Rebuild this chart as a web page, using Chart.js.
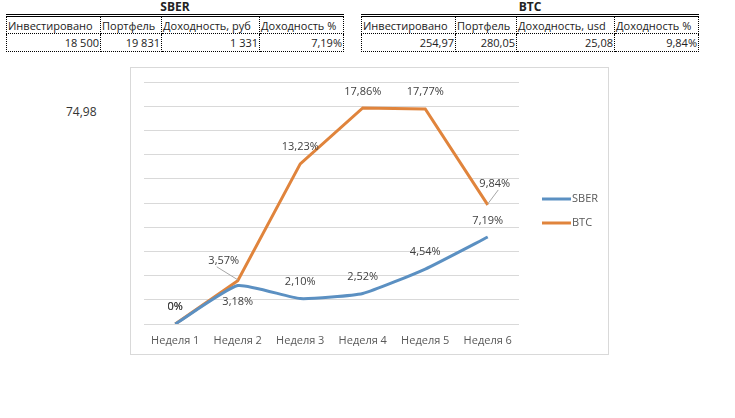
<!DOCTYPE html>
<html>
<head>
<meta charset="utf-8">
<script src="https://cdn.jsdelivr.net/npm/chart.js@4.4.1/dist/chart.umd.min.js"></script>
<style>
  body { margin: 0; background: #fff; font-family: "Open Sans", sans-serif; color: #222; }
  .block { position: absolute; top: 0; }
  .title { text-align: center; font-weight: bold; font-size: 12px; height: 14px; line-height: 14px; }
  table { border-collapse: collapse; font-size: 11px; }
  td { border: 1px dotted #000; height: 16px; padding: 0 1px; white-space: nowrap; overflow: hidden; }
  tr.head td { border-top: 3px double #000; text-align: left; }
  tr.vals td { text-align: right; height: 17px; }
  #cell { position: absolute; left: 66px; top: 103px; font-size: 12px; color: #333; }
  #frame { position: absolute; left: 130px; top: 67px; width: 479px; height: 288px; border: 1px solid #d9d9d9; box-sizing: border-box; }
</style>
</head>
<body>
<div class="block" style="left:6px">
  <div class="title">SBER</div>
  <table id="t-sber"></table>
</div>
<div class="block" style="left:361px">
  <div class="title">BTC</div>
  <table id="t-btc"></table>
</div>
<div id="cell">74,98</div>
<div id="frame"><canvas id="chart" width="477" height="286"></canvas></div>

<script>
"use strict"

// таблицы
const sber_head = ['Инвестировано', 'Портфель', 'Доходность, руб', 'Доходность %']
const sber_vals = ['18 500', '19 831', '1 331', '7,19%']
const btc_head = ['Инвестировано', 'Портфель', 'Доходность, usd', 'Доходность %']
const btc_vals = ['254,97', '280,05', '25,08', '9,84%']
const col_widths = [94, 61, 98, 84]

// график
const weeks = ['Неделя 1', 'Неделя 2', 'Неделя 3', 'Неделя 4', 'Неделя 5', 'Неделя 6']
const sber_values = [0, 3.18, 2.10, 2.52, 4.54, 7.19]
const btc_values = [0, 3.57, 13.23, 17.86, 17.77, 9.84]

const fill_table = (id, head, vals) => {
    const table = document.getElementById(id)
    const row = (cls, cells) => {
        const tr = document.createElement('tr')
        tr.className = cls
        cells.forEach((c, i) => {
            const td = document.createElement('td')
            td.style.width = (col_widths[i] - 3) + 'px'
            td.textContent = c
            tr.appendChild(td)
        })
        table.appendChild(tr)
    }
    row('head', head)
    row('vals', vals)
}

fill_table('t-sber', sber_head, sber_vals)
fill_table('t-btc', btc_head, btc_vals)

const fmt = (v) => v === 0 ? '0%' : v.toFixed(2).replace('.', ',') + '%'

// смещения подписей [dx, dy] и выноски
const label_offsets = {
    SBER: [[0, -17], [0, 16], [0, -17], [0, -17], [0, -17], [0, -16]],
    BTC: [[0, -17], [-14, -20], [0, -17], [0, -16], [0, -17], [7, -21]]
}
const leaders = { BTC: [1, 5] }

const labelsPlugin = {
    id: 'pointLabels',
    afterDatasetsDraw(chart) {
        const ctx = chart.ctx
        ctx.save()
        ctx.font = '11px "Open Sans"'
        ctx.fillStyle = '#404040'
        ctx.textAlign = 'center'
        ctx.textBaseline = 'middle'
        chart.data.datasets.forEach((ds, di) => {
            const meta = chart.getDatasetMeta(di)
            meta.data.forEach((pt, i) => {
                const [dx, dy] = label_offsets[ds.label][i]
                const lx = pt.x + dx
                const ly = pt.y + dy
                if ((leaders[ds.label] || []).includes(i)) {
                    ctx.strokeStyle = '#a6a6a6'
                    ctx.lineWidth = 1
                    ctx.beginPath()
                    ctx.moveTo(lx + dx * 0.5, ly + 6)
                    ctx.lineTo(pt.x, pt.y - 1)
                    ctx.stroke()
                }
                ctx.fillText(fmt(ds.data[i]), lx, ly)
            })
        })
        ctx.restore()
    }
}

const legendPlugin = {
    id: 'sideLegend',
    afterDraw(chart) {
        const ctx = chart.ctx
        ctx.save()
        ctx.font = '11px "Open Sans"'
        ctx.fillStyle = '#595959'
        ctx.textBaseline = 'middle'
        chart.data.datasets.forEach((ds, i) => {
            const y = 131 + i * 24
            ctx.strokeStyle = ds.borderColor
            ctx.lineWidth = 3
            ctx.beginPath()
            ctx.moveTo(411, y)
            ctx.lineTo(440, y)
            ctx.stroke()
            ctx.fillText(ds.label, 441, y)
        })
        ctx.restore()
    }
}

new Chart(document.getElementById('chart').getContext('2d'), {
    type: 'line',
    data: {
        labels: weeks,
        datasets: [{
            label: 'SBER',
            data: sber_values,
            borderColor: '#5b90c2',
            borderWidth: 3,
            pointRadius: 0,
            tension: 0.15
        }, {
            label: 'BTC',
            data: btc_values,
            borderColor: '#e0843c',
            borderWidth: 3,
            pointRadius: 0,
            tension: 0
        }]
    },
    options: {
        responsive: false,
        animation: false,
        layout: { padding: { left: 13, top: 14, right: 89, bottom: 0 } },
        plugins: {
            legend: { display: false },
            tooltip: { enabled: false }
        },
        scales: {
            x: {
                offset: true,
                grid: { display: false, drawTicks: false },
                border: { display: false },
                ticks: { color: '#595959', font: { family: 'Open Sans', size: 11 }, padding: 10, maxRotation: 0 },
                afterFit: (s) => { s.height = 30 }
            },
            y: {
                min: 0,
                max: 20,
                ticks: { stepSize: 2, display: false },
                grid: { color: '#d9d9d9', drawTicks: false },
                border: { display: false },
                afterFit: (s) => { s.width = 0 }
            }
        }
    },
    plugins: [labelsPlugin, legendPlugin]
})
</script>
</body>
</html>
